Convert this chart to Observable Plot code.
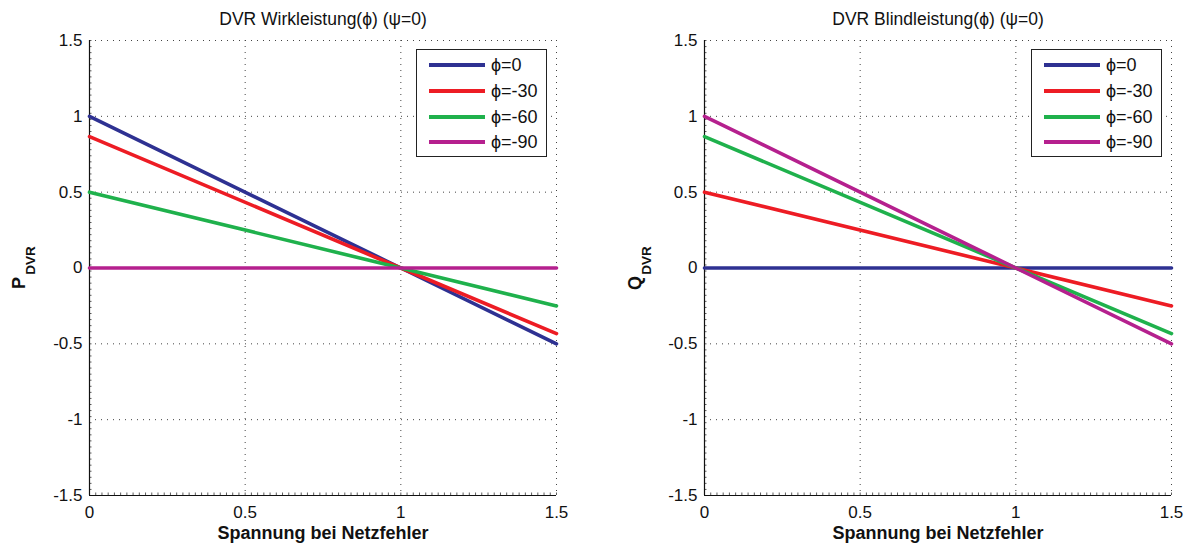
<!DOCTYPE html>
<html>
<head>
<meta charset="utf-8">
<script src="https://cdn.jsdelivr.net/npm/d3@7"></script>
<script src="https://cdn.jsdelivr.net/npm/@observablehq/plot@0.6"></script>
<style>
  html, body { margin: 0; padding: 0; background: #fff; }
  #wrap { position: relative; width: 1190px; height: 545px; overflow: hidden; font-family: "Liberation Sans", Arial, Helvetica, sans-serif; }
  .panel { position: absolute; top: 0; }
  .legend { position: absolute; top: 49px; width: 129px; height: 106px; border: 1.5px solid #222; background: #fff; box-sizing: content-box; }
  .legend .row { position: absolute; left: 0; height: 22px; display: flex; align-items: center; }
  .legend .sw { width: 56px; height: 4px; margin-left: 12px; margin-right: 6px; }
  .legend .lbl { font-size: 18px; color: #111; }
</style>
</head>
<body>
<div id="wrap"></div>
<script>
// ---- data ----
const xValues = [0, 1, 1.5];
const seriesNames = ["ϕ=0", "ϕ=-30", "ϕ=-60", "ϕ=-90"];
const seriesColors = ["#2e3192", "#ed1c24", "#1fb14c", "#b5208e"];
// Wirkleistung P_DVR at x = 0, 1, 1.5
const pPhi0   = [1.0, 0, -0.5];
const pPhi30  = [0.866, 0, -0.433];
const pPhi60  = [0.5, 0, -0.25];
const pPhi90  = [0, 0, 0];
// Blindleistung Q_DVR at x = 0, 1, 1.5
const qPhi0   = [0, 0, 0];
const qPhi30  = [0.5, 0, -0.25];
const qPhi60  = [0.866, 0, -0.433];
const qPhi90  = [1.0, 0, -0.5];

const xTicks = [0, 0.5, 1, 1.5];
const yTicks = [-1.5, -1, -0.5, 0, 0.5, 1, 1.5];
const xDomain = [0, 1.5];
const yDomain = [-1.5, 1.5];

const titles = ["DVR Wirkleistung(ϕ) (ψ=0)", "DVR Blindleistung(ϕ) (ψ=0)"];
const yLabelMain = ["P", "Q"];
const yLabelSub = "DVR";
const xLabel = "Spannung bei Netzfehler";

const minorX = d3.range(0, 1.5001, 0.02);
const minorY = d3.range(-1.5, 1.5001, 0.04);

function fmt(d) { return String(d); }

function makePanel(seriesValues, title, mainLabel, marginLeft, marginRight, yLabDx) {
  const data = [];
  seriesValues.forEach((vals, s) => vals.forEach((v, i) => data.push({x: xValues[i], y: v, s})));
  const marks = [
    Plot.ruleY(yTicks, {stroke: "#444", strokeWidth: 1, strokeDasharray: "1,5"}),
    Plot.ruleX(xTicks, {stroke: "#444", strokeWidth: 1, strokeDasharray: "1,5"}),
    Plot.ruleX(minorX, {y1: () => yDomain[0], y2: () => yDomain[0], insetTop: -2.5, stroke: "#333", strokeWidth: 0.8}),
    Plot.ruleY(minorY, {x1: () => xDomain[0], x2: () => xDomain[0], insetRight: -2.5, stroke: "#333", strokeWidth: 0.8}),
    Plot.ruleX([xDomain[0]], {stroke: "#111", strokeWidth: 1.2}),
    Plot.ruleY([yDomain[0]], {stroke: "#111", strokeWidth: 1.2}),
  ];
  seriesValues.forEach((vals, s) => {
    marks.push(Plot.line(data.filter(d => d.s === s), {x: "x", y: "y", stroke: seriesColors[s], strokeWidth: 3.6}));
  });
  marks.push(
    Plot.text([title], {frameAnchor: "top", dy: -28, fontSize: 17.5, fill: "#111"}),
    Plot.text([xLabel], {frameAnchor: "bottom", dy: 43, fontSize: 18, fontWeight: "bold", fill: "#111"}),
    Plot.text([mainLabel], {frameAnchor: "left", textAnchor: "middle", dx: yLabDx, dy: 15, rotate: -90, fontSize: 18, fontWeight: "bold", fill: "#111"}),
    Plot.text([yLabelSub], {frameAnchor: "left", textAnchor: "middle", dx: yLabDx + 11.5, dy: -7.5, rotate: -90, fontSize: 13.5, fontWeight: "bold", fill: "#111"})
  );
  return Plot.plot({
    width: 595,
    height: 545,
    marginLeft, marginRight,
    marginTop: 40,
    marginBottom: 50,
    style: {fontFamily: "'Liberation Sans', Arial, Helvetica, sans-serif", fontSize: "17px", color: "#111", background: "#fff", overflow: "visible"},
    x: {domain: xDomain, ticks: xTicks, tickFormat: fmt, tickSize: 0, tickPadding: 10, label: null},
    y: {domain: yDomain, ticks: yTicks, tickFormat: fmt, tickSize: 0, tickPadding: 7, label: null},
    marks
  });
}

function makeLegend(left) {
  const lg = document.createElement("div");
  lg.className = "legend";
  lg.style.left = left + "px";
  const rowsTop = [4, 30, 56, 81];
  seriesNames.forEach((name, i) => {
    const row = document.createElement("div");
    row.className = "row";
    row.style.top = rowsTop[i] + "px";
    const sw = document.createElement("div");
    sw.className = "sw";
    sw.style.background = seriesColors[i];
    const lb = document.createElement("span");
    lb.className = "lbl";
    lb.textContent = name;
    row.appendChild(sw);
    row.appendChild(lb);
    lg.appendChild(row);
  });
  return lg;
}

const wrap = document.getElementById("wrap");
const left = makePanel([pPhi0, pPhi30, pPhi60, pPhi90], titles[0], yLabelMain[0], 89, 39, -70);
const right = makePanel([qPhi0, qPhi30, qPhi60, qPhi90], titles[1], yLabelMain[1], 109, 19, -69);
const d1 = document.createElement("div"); d1.className = "panel"; d1.style.left = "0px"; d1.appendChild(left);
const d2 = document.createElement("div"); d2.className = "panel"; d2.style.left = "595px"; d2.appendChild(right);
wrap.appendChild(d1);
wrap.appendChild(d2);
wrap.appendChild(makeLegend(416));
wrap.appendChild(makeLegend(1031));
</script>
</body>
</html>
